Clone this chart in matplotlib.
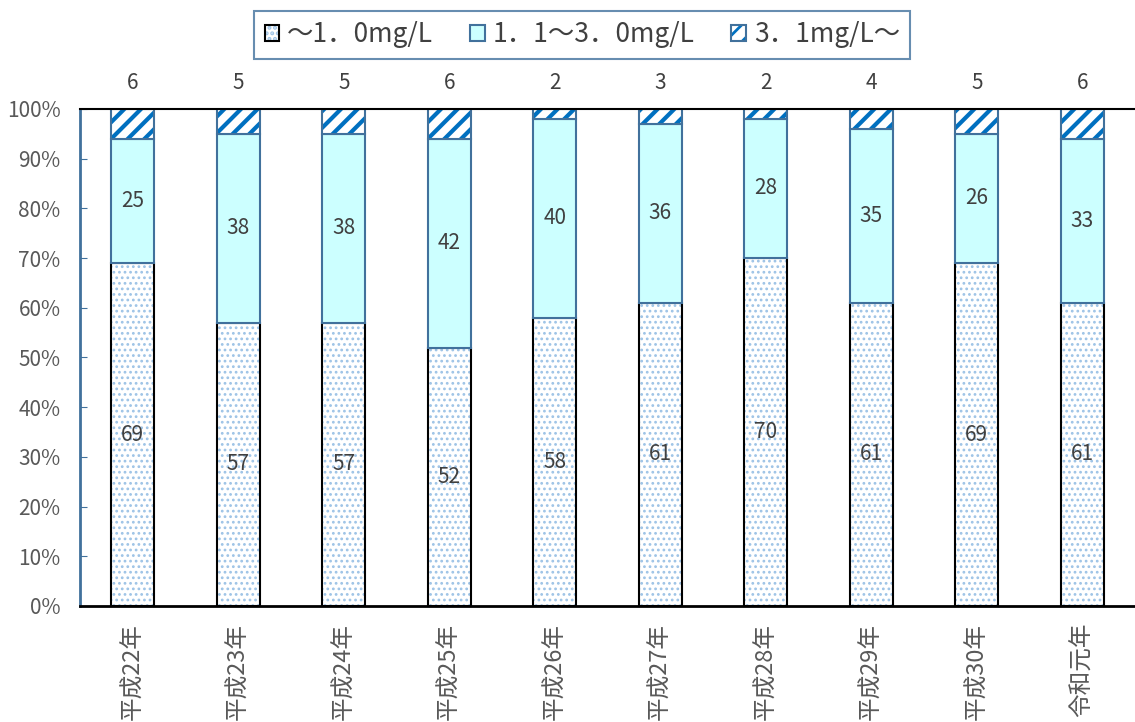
import matplotlib
matplotlib.use("Agg")
import matplotlib.pyplot as plt
from matplotlib.patches import Patch
from matplotlib.legend_handler import HandlerTuple
import numpy as np

plt.rcParams['font.family'] = ['Noto Sans CJK JP', 'DejaVu Sans']

years = ['平成22年', '平成23年', '平成24年', '平成25年', '平成26年',
         '平成27年', '平成28年', '平成29年', '平成30年', '令和元年']
low = [69, 57, 57, 52, 58, 61, 70, 61, 69, 61]      # ～1.0mg/L
mid = [25, 38, 38, 42, 40, 36, 28, 35, 26, 33]      # 1.1～3.0mg/L
high = [6, 5, 5, 6, 2, 3, 2, 4, 5, 6]               # 3.1mg/L～
series_names = ['～1．0mg/L', '1．1～3．0mg/L', '3．1mg/L～']

edge_blue = '#41719C'
dot_blue = '#9DC3E6'
stripe_blue = '#0070C0'
txt = '#404040'

fig = plt.figure(figsize=(11.35, 7.22), dpi=100)
ax = fig.add_axes([0.0705, 0.1607, 0.9295, 0.6884])

x = np.arange(len(years))
w = 0.41
low_a = np.array(low)
mid_a = np.array(mid)
high_a = np.array(high)

# dotted bottom segment
plt.rcParams['hatch.linewidth'] = 1.2
ax.bar(x, low_a, w, color='white', edgecolor=dot_blue, hatch='...', linewidth=0)
ax.bar(x, low_a, w, fill=False, edgecolor='black', linewidth=1.5)
h_dot = Patch(facecolor='white', edgecolor=dot_blue, hatch='...', linewidth=0)

# middle segment
ax.bar(x, mid_a, w, bottom=low_a, color='#CCFFFF', edgecolor=edge_blue, linewidth=1.5)

# striped top segment
plt.rcParams['hatch.linewidth'] = 3.0
ax.bar(x, high_a, w, bottom=low_a + mid_a, color='white', edgecolor=stripe_blue,
       hatch='//', linewidth=0)
ax.bar(x, high_a, w, bottom=low_a + mid_a, fill=False, edgecolor=edge_blue, linewidth=1.5)
plt.rcParams['hatch.linewidth'] = 2.0
h_str = Patch(facecolor='white', edgecolor=stripe_blue, hatch='//', linewidth=0)

for i in range(len(years)):
    ax.text(x[i], low[i] / 2, str(low[i]), ha='center', va='center', fontsize=15, color=txt)
    ax.text(x[i], low[i] + mid[i] / 2, str(mid[i]), ha='center', va='center',
            fontsize=15, color=txt)
    ax.text(x[i], 105.3, str(high[i]), ha='center', va='center', fontsize=15,
            color=txt, clip_on=False)

ax.set_xlim(-0.5, len(years) - 0.5)
ax.set_ylim(0, 100)
ax.set_yticks(np.arange(0, 101, 10))
ax.set_yticklabels([f'{v}%' for v in range(0, 101, 10)], fontsize=15, color='#595959')
ax.set_xticks(x)
ax.set_xticklabels(years, rotation=90, fontsize=17, color='#595959', va='top')
ax.tick_params(axis='x', length=0, pad=12)
ax.tick_params(axis='y', direction='in', length=5, color=edge_blue, pad=14)

ax.spines['left'].set_color(edge_blue)
ax.spines['left'].set_linewidth(2)
ax.spines['bottom'].set_color('black')
ax.spines['bottom'].set_linewidth(2)
ax.spines['top'].set_color('black')
ax.spines['top'].set_linewidth(1.5)
ax.spines['right'].set_visible(False)

handles = [
    (h_dot, Patch(fill=False, edgecolor='black', linewidth=1.5)),
    (Patch(facecolor='#CCFFFF', edgecolor=edge_blue, linewidth=1.5),),
    (h_str, Patch(fill=False, edgecolor=edge_blue, linewidth=1.5)),
]
leg = fig.legend(handles, series_names, loc='center', bbox_to_anchor=(0.513, 0.952),
                 ncol=3, fontsize=19, frameon=True, fancybox=False,
                 handler_map={tuple: HandlerTuple(ndivide=1, pad=0)},
                 handlelength=0.55, handleheight=0.55, handletextpad=0.3,
                 columnspacing=1.4, borderpad=0.4, borderaxespad=0)
leg.get_frame().set_edgecolor(edge_blue)
leg.get_frame().set_linewidth(1.5)
for t in leg.get_texts():
    t.set_color(txt)

fig.savefig('out.png', dpi=100)
